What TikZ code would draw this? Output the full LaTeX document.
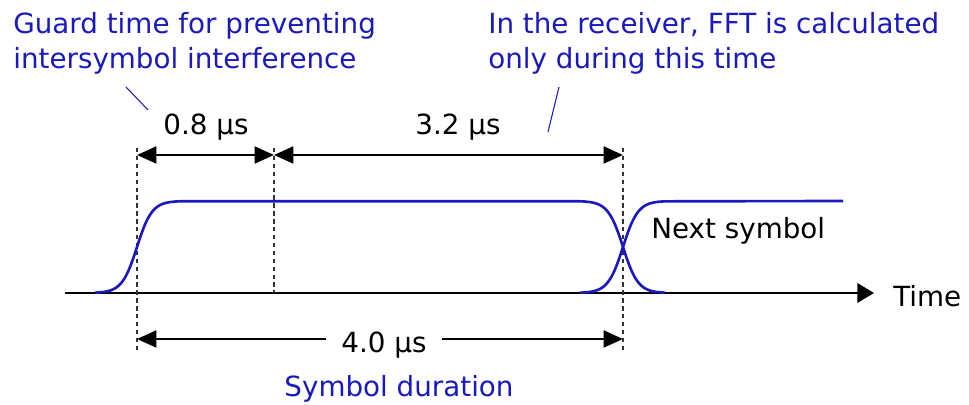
\documentclass[tikz,border=0pt]{standalone}
\usepackage{fontspec}
\setmainfont{DejaVu Sans}
\usetikzlibrary{arrows.meta, positioning}
\definecolor{symblue}{RGB}{25,25,190}

\begin{document}
\begin{tikzpicture}[
            font=\fontsize{15.8}{19.9}\selectfont,
            >={Triangle[length=11pt, width=9.5pt]},
            % pixel grid of the original slide, y pointing down
            x=0.2mm, y=-0.2mm,
            axis/.style ={line width=1.6pt, -{Triangle[length=9.5pt, width=11pt]}},
            dim/.style  ={line width=1.6pt},
            guide/.style={line width=0.6pt, black!80, dash pattern=on 2.5pt off 2pt},
            pulse/.style={line width=1.5pt, symblue},
            lead/.style ={line width=0.6pt, symblue},
            note/.style ={text=symblue, align=left, inner sep=0pt},
            val/.style  ={inner sep=0pt}
        ]
        \useasboundingbox (0,0) rectangle (969,405);

        %% ===== time axis and symbol boundaries =====
        \coordinate (ax0) at (65,293);
        \node[anchor=base west, inner sep=0pt] (time) at (893,307) {Time};
        \draw[axis] (ax0) -- (874,293);

        \coordinate (g0t) at (137,148); \coordinate (g0b) at (137,350);
        \coordinate (g1t) at (274,148); \coordinate (g1b) at (274,293);
        \coordinate (g2t) at (623,148); \coordinate (g2b) at (623,350);
        \draw[guide] (g0t) -- (g0b);
        \draw[guide] (g1t) -- (g1b);
        \draw[guide] (g2t) -- (g2b);

        %% ===== pulses =====
        \draw[pulse] plot[domain=95:180, samples=40, smooth] (\x, {293-92/(1+exp(-(\x-137)/7.5))})
            -- plot[domain=580:665, samples=40, smooth] (\x, {293-92/(1+exp((\x-623)/7.5))});
        \draw[pulse] plot[domain=580:665, samples=40, smooth] (\x, {293-92/(1+exp(-(\x-623)/7.5))})
            -- (843,201);
        \node[anchor=base west, inner sep=0pt] (next) at (651,239) {Next symbol};

        %% ===== dimensions =====
        \coordinate (a0) at (137,155); \coordinate (a1) at (274,155); \coordinate (a2) at (623,155);
        \draw[dim, <->] (a0) -- (a1);
        \draw[dim, <->] (a1) -- (a2);
        \node[val, anchor=base] (guard) at (206,135) {0.8 µs};
        \node[val, anchor=base] (fft) at (458,135) {3.2 µs};

        \coordinate (b0) at (137,339); \coordinate (b2) at (623,339);
        \node[val, anchor=base, inner xsep=3mm] (sym) at (384,353) {4.0 µs};
        \draw[dim, ->] (sym.west |- b0) -- (b0);
        \draw[dim, ->] (sym.east |- b2) -- (b2);
        \node[note, anchor=base] (symlbl) at (399,397) {Symbol duration};

        %% ===== notes =====
        \node[note, anchor=north west] (gnote) at (13,12) {Guard time for preventing\\intersymbol interference};
        \node[note, anchor=north west] (fnote) at (488,12) {In the receiver, FFT is calculated\\only during this time};
        \coordinate (gl0) at (126,87); \coordinate (gl1) at (148,110);
        \coordinate (fl0) at (559,87); \coordinate (fl1) at (548,132);
        \draw[lead] (gl0) -- (gl1);
        \draw[lead] (fl0) -- (fl1);

    \end{tikzpicture}
\end{document}
